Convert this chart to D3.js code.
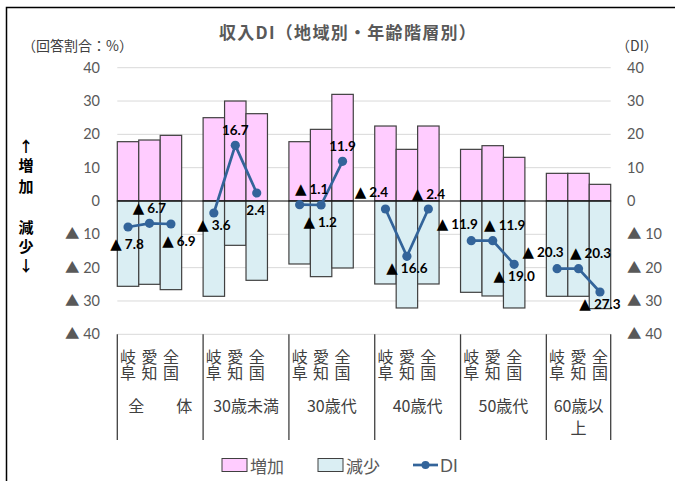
<!DOCTYPE html>
<html><head><meta charset="utf-8">
<script src="https://cdn.jsdelivr.net/npm/d3@7"></script>
<style>
html,body{margin:0;padding:0;background:#fff;}
svg{display:block;}
</style></head>
<body>
<svg id="chart" width="675" height="481"></svg>
<script>
// ---- data ----
const groups = ["全　　体", "30歳未満", "30歳代", "40歳代", "50歳代", "60歳以\n上"];
const regions = ["岐阜", "愛知", "全国"];
const increase = [
  [17.8, 18.3, 19.7],
  [25.0, 30.0, 26.2],
  [17.8, 21.5, 32.0],
  [22.5, 15.5, 22.5],
  [15.5, 16.6, 13.1],
  [8.3, 8.3, 5.0]
];
const decrease = [
  [25.6, 25.0, 26.6],
  [28.6, 13.3, 23.8],
  [18.9, 22.7, 20.1],
  [24.9, 32.1, 24.9],
  [27.4, 28.5, 32.1],
  [28.6, 28.6, 32.3]
];
const di = [
  [-7.8, -6.7, -6.9],
  [-3.6, 16.7, 2.4],
  [-1.1, -1.2, 11.9],
  [-2.4, -16.6, -2.4],
  [-11.9, -11.9, -19.0],
  [-20.3, -20.3, -27.3]
];
const labelPlacement = [
  ["below", "above", "belowRight"],
  ["belowNear", "above", "below"],
  ["aboveRight", "below", "above"],
  ["aboveLeft", "belowNear", "above"],
  ["aboveLeft", "aboveRight", "belowNear"],
  ["aboveLeft", "aboveRight", "belowNear"]
];
const yTicks = [40, 30, 20, 10, 0, -10, -20, -30, -40];

// ---- style ----
const PINK = "#ffccff", BLUE = "#daeef3", EDGE = "#404040", LINE = "#33649a";
const GRAY = "#595959";
const NUMFONT = "Lato, 'Noto Sans CJK JP', sans-serif";
const JPFONT = "'Noto Sans CJK JP', sans-serif";

const svg = d3.select("#chart");
svg.append("rect").attr("x", 6.5).attr("y", 7.5).attr("width", 700).attr("height", 500)
  .attr("fill", "#fff").attr("stroke", "#000").attr("stroke-width", 1.5);

// slots: 3 regions per group + blank slot between groups
const slots = [];
groups.forEach((g, gi) => {
  regions.forEach((r, ri) => slots.push(gi + "-" + ri));
  if (gi < groups.length - 1) slots.push(gi + "-gap");
});
const x = d3.scaleBand().domain(slots).range([117.3, 610.7]).padding(0);
const y = d3.scaleLinear().domain([-40, 40]).range([334.3, 67.7]);
const xL = x.range()[0], xR = x.range()[1];

const fmtTick = v => v < 0 ? "▲ " + Math.abs(v) : String(v);

// gridlines
svg.append("g").selectAll("line").data(yTicks.filter(v => v !== 0)).join("line")
  .attr("x1", xL).attr("x2", xR).attr("y1", d => y(d)).attr("y2", d => y(d))
  .attr("stroke", "#d9d9d9").attr("stroke-width", 1);

// left / right axis labels
const leftAxis = d3.axisLeft(y).tickValues(yTicks).tickFormat(fmtTick).tickSize(0).tickPadding(0);
const gl = svg.append("g").attr("transform", "translate(100,0)").call(leftAxis);
gl.select(".domain").remove();
gl.selectAll("text").attr("fill", GRAY).attr("font-size", 14.5).attr("font-family", NUMFONT);

const rightAxis = d3.axisRight(y).tickValues(yTicks).tickFormat(fmtTick).tickSize(0).tickPadding(0);
const gr = svg.append("g").attr("transform", "translate(627,0)").call(rightAxis);
gr.select(".domain").remove();
gr.selectAll("text").attr("fill", GRAY).attr("font-size", 14.5).attr("font-family", NUMFONT);

// bars
const barData = [];
groups.forEach((g, gi) => regions.forEach((r, ri) => barData.push({
  key: gi + "-" + ri, inc: increase[gi][ri], dec: decrease[gi][ri], di: di[gi][ri],
  pos: labelPlacement[gi][ri], gi, ri
})));
svg.append("g").selectAll("rect").data(barData).join("rect")
  .attr("x", d => x(d.key)).attr("width", x.bandwidth())
  .attr("y", d => y(d.inc)).attr("height", d => y(0) - y(d.inc))
  .attr("fill", PINK).attr("stroke", EDGE).attr("stroke-width", 1.2);
svg.append("g").selectAll("rect").data(barData).join("rect")
  .attr("x", d => x(d.key)).attr("width", x.bandwidth())
  .attr("y", y(0)).attr("height", d => y(-d.dec) - y(0))
  .attr("fill", BLUE).attr("stroke", EDGE).attr("stroke-width", 1.2);

// zero line
svg.append("line").attr("x1", xL).attr("x2", xR).attr("y1", y(0)).attr("y2", y(0))
  .attr("stroke", "#000").attr("stroke-width", 1.2);

// DI lines per group
const line = d3.line().x(d => x(d.key) + x.bandwidth() / 2).y(d => y(d.di));
groups.forEach((g, gi) => {
  svg.append("path").datum(barData.filter(d => d.gi === gi))
    .attr("d", line).attr("fill", "none").attr("stroke", LINE).attr("stroke-width", 2.7);
});
svg.append("g").selectAll("circle").data(barData).join("circle")
  .attr("cx", d => x(d.key) + x.bandwidth() / 2).attr("cy", d => y(d.di)).attr("r", 4.6)
  .attr("fill", LINE);

// DI labels
const offs = {
  above: [0, -15], below: [-1, 17], belowNear: [0, 12], belowRight: [8, 17],
  aboveLeft: [-14, -17], aboveRight: [12, -16]
};
const lab = svg.append("g").selectAll("text").data(barData).join("text")
  .attr("x", d => x(d.key) + x.bandwidth() / 2 + offs[d.pos][0])
  .attr("y", d => y(d.di) + offs[d.pos][1])
  .attr("text-anchor", "middle").attr("dominant-baseline", "central")
  .attr("font-family", NUMFONT).attr("font-weight", "bold").attr("font-size", 13.5).attr("fill", "#000");
lab.each(function(d) {
  const t = d3.select(this);
  if (d.di < 0) {
    t.append("tspan").attr("font-family", "'DejaVu Sans'").attr("font-size", 15).text("▲");
    t.append("tspan").attr("dx", 3).text(Math.abs(d.di).toFixed(1));
  } else {
    t.text(d.di.toFixed(1));
  }
});

// category axis: region labels (vertical), group labels, separators
const ax = svg.append("g").attr("font-family", JPFONT).attr("fill", "#404040").attr("font-size", 16);
barData.forEach(d => {
  const cx = x(d.key) + x.bandwidth() / 2;
  ax.append("text").attr("x", cx).attr("y", 348.5)
    .attr("writing-mode", "vertical-rl").attr("text-anchor", "start")
    .attr("letter-spacing", 0.6).text(regions[d.ri]);
});
const gStarts = groups.map((g, gi) => x(gi + "-0"));
const seps = gStarts.concat([xR]);
svg.append("g").selectAll("line").data(seps).join("line")
  .attr("x1", d => d).attr("x2", d => d).attr("y1", 334.3).attr("y2", 440)
  .attr("stroke", EDGE).attr("stroke-width", 1.3);
groups.forEach((g, gi) => {
  const gx = (seps[gi] + seps[gi + 1]) / 2;
  g.split("\n").forEach((part, k) => {
    ax.append("text").attr("x", gx).attr("y", 405 + k * 21.7)
      .attr("text-anchor", "middle").attr("dominant-baseline", "central").text(part);
  });
});

// titles
svg.append("text").attr("x", 348).attr("y", 31.5).attr("text-anchor", "middle")
  .attr("dominant-baseline", "central").attr("font-family", JPFONT).attr("font-weight", "bold")
  .attr("font-size", 17).attr("letter-spacing", 1.3).attr("fill", GRAY).text("収入DI（地域別・年齢階層別）");
svg.append("text").attr("x", 22).attr("y", 44.5).attr("dominant-baseline", "central")
  .attr("font-family", JPFONT).attr("font-size", 14).attr("fill", "#404040").text("（回答割合：%）");
svg.append("text").attr("x", 616).attr("y", 44.5).attr("dominant-baseline", "central")
  .attr("font-family", JPFONT).attr("font-size", 14).attr("fill", "#404040").text("（DI）");

// side arrows
const side = [["↑", 145], ["増", 164], ["加", 185], ["減", 226], ["少", 245], ["↓", 264]];
svg.append("g").selectAll("text").data(side).join("text")
  .attr("x", 26).attr("y", d => d[1]).attr("text-anchor", "middle").attr("dominant-baseline", "central")
  .attr("font-family", JPFONT).attr("font-weight", "bold").attr("font-size", 15).attr("fill", "#000")
  .text(d => d[0]);

// legend
const lg = svg.append("g").attr("font-family", JPFONT).attr("font-size", 17).attr("fill", GRAY);
lg.append("rect").attr("x", 222).attr("y", 458.5).attr("width", 25).attr("height", 13)
  .attr("fill", PINK).attr("stroke", EDGE).attr("stroke-width", 1);
lg.append("text").attr("x", 250).attr("y", 465).attr("dominant-baseline", "central").text("増加");
lg.append("rect").attr("x", 318).attr("y", 458.5).attr("width", 25).attr("height", 13)
  .attr("fill", BLUE).attr("stroke", EDGE).attr("stroke-width", 1);
lg.append("text").attr("x", 346).attr("y", 465).attr("dominant-baseline", "central").text("減少");
lg.append("line").attr("x1", 413).attr("x2", 438).attr("y1", 465).attr("y2", 465)
  .attr("stroke", LINE).attr("stroke-width", 2.7);
lg.append("circle").attr("cx", 425.5).attr("cy", 465).attr("r", 4).attr("fill", LINE);
lg.append("text").attr("x", 440).attr("y", 465).attr("dominant-baseline", "central")
  .attr("font-family", NUMFONT).text("DI");
</script>
</body></html>
